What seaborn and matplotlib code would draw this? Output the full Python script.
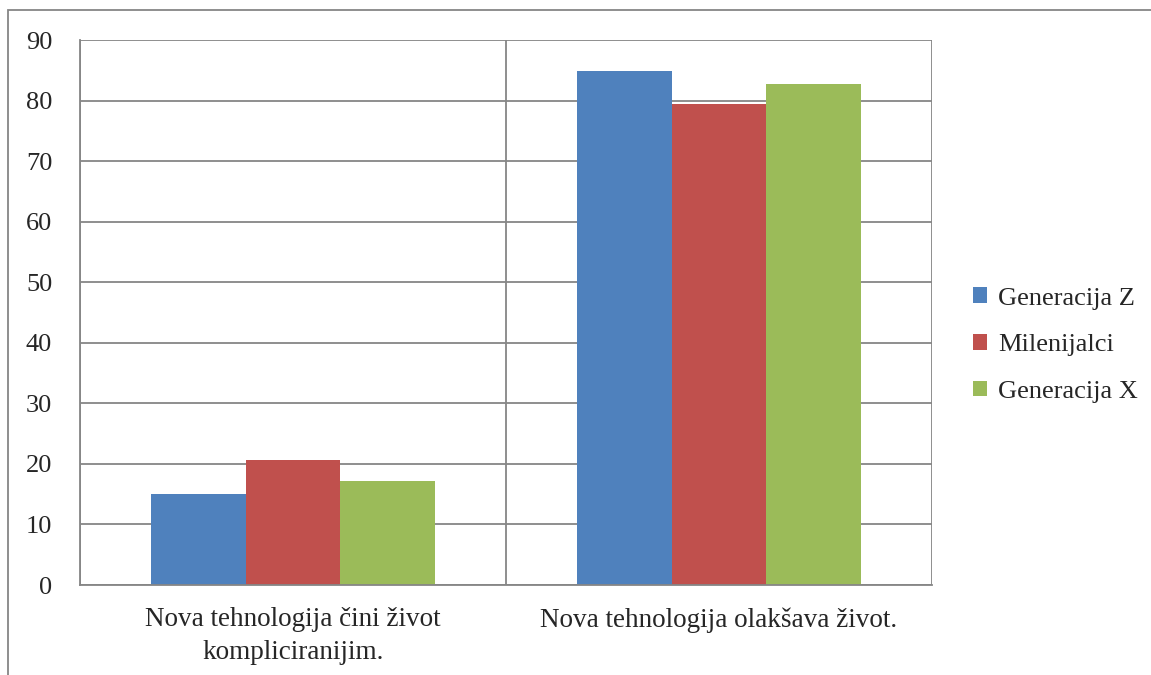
import pandas as pd
import matplotlib.pyplot as plt
import seaborn as sns
from matplotlib.patches import Rectangle

# Values
categories = ['Nova tehnologija čini život\nkompliciranijim.', 'Nova tehnologija olakšava život.']
series = ['Generacija Z', 'Milenijalci', 'Generacija X']
gen_z = [15.1, 84.9]
milenijalci = [20.6, 79.4]
gen_x = [17.2, 82.8]
colors = ['#4F81BD', '#C0504D', '#9BBB59']

df = pd.DataFrame({
    'kategorija': categories * 3,
    'serija': [s for s in series for _ in categories],
    'vrijednost': gen_z + milenijalci + gen_x,
})

sns.set_style('white')
plt.rcParams['font.family'] = ['Liberation Serif', 'DejaVu Serif']

fig = plt.figure(figsize=(11.51, 6.75), dpi=100)
ax = fig.add_axes([0.0695, 0.1333, 0.7402, 0.8074])

sns.barplot(data=df, x='kategorija', y='vrijednost', hue='serija',
            palette=colors, width=0.667, saturation=1, linewidth=0,
            ax=ax, legend=True)

grid_col = '#868686'
fs = 19
ax.set_ylim(0, 90)
ax.set_yticks(range(0, 91, 10))
ax.set_xlim(-0.5, 1.5)
ax.set_xticks([-0.5, 0.5, 1.5], minor=True)
ax.set_axisbelow(True)
ax.yaxis.grid(True, color=grid_col, lw=1.3)
ax.xaxis.grid(True, which='minor', color=grid_col, lw=1.3)
ax.tick_params(axis='x', which='major', length=0, pad=16, labelsize=19.5)
ax.tick_params(axis='x', which='minor', length=10, color=grid_col, width=1.3, direction='out')
ax.tick_params(axis='y', length=8, color=grid_col, width=1.3, labelsize=fs, pad=12)
for lab in ax.get_xticklabels():
    lab.set_linespacing(1.4)
for s in ['top', 'right']:
    ax.spines[s].set_visible(False)
for s in ['left', 'bottom']:
    ax.spines[s].set_color(grid_col)
    ax.spines[s].set_linewidth(1.3)
ax.set_xlabel('')
ax.set_ylabel('')

leg = ax.legend(loc='center left', bbox_to_anchor=(1.033, 0.44), frameon=False,
                fontsize=fs, handlelength=0.53, handleheight=0.53,
                handletextpad=0.4, labelspacing=0.93, borderpad=0)

# outer chart border
fig.patches.append(Rectangle((8 / 1151, -0.1), 1.2, 1 - 10 / 675 + 0.1,
                             transform=fig.transFigure, fill=False,
                             edgecolor=grid_col, lw=1.3))

fig.savefig('out.png', dpi=100)
